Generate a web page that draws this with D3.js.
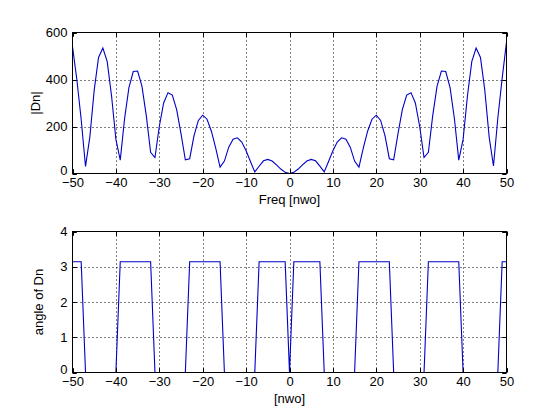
<!DOCTYPE html>
<html>
<head>
<meta charset="utf-8">
<script src="https://cdn.jsdelivr.net/npm/d3@7"></script>
<style>
  body { margin: 0; background: #fff; }
  text { font-family: "Liberation Sans", Arial, sans-serif; font-size: 13px; fill: #000; }
</style>
</head>
<body>
<div id="chart"></div>
<script>
// frequency index n = -50..50
var freq = d3.range(-50, 51);

// |Dn|, n = -50..50
var magDn = [
  540, 400, 230, 30, 156, 355, 494, 534, 476, 330,
  145, 57, 233, 365, 434, 436, 372, 246, 90, 68,
  200, 300, 344, 334, 272, 170, 58, 63, 161, 226,
  248, 231, 180, 108, 27, 53, 112, 146, 152, 134,
  97, 51, 7, 31, 54, 60, 53, 37, 19, 5,
  0,
  5, 19, 37, 53, 60, 54, 31, 7, 51, 97,
  134, 152, 146, 112, 53, 27, 108, 180, 231, 248,
  226, 161, 63, 58, 170, 272, 334, 344, 300, 200,
  68, 90, 246, 372, 436, 434, 365, 233, 57, 145,
  330, 476, 534, 494, 355, 156, 32, 235, 405, 559
];

// angle of Dn, 0 or pi, n = -50..50
var P = Math.PI;
var angDn = [
  P, P, P, 0, 0, 0, 0, 0, 0, 0,
  0, P, P, P, P, P, P, P, P, 0,
  0, 0, 0, 0, 0, 0, 0, P, P, P,
  P, P, P, P, P, 0, 0, 0, 0, 0,
  0, 0, 0, P, P, P, P, P, P, P,
  0,
  P, P, P, P, P, P, P, 0, 0, 0,
  0, 0, 0, 0, 0, P, P, P, P, P,
  P, P, P, 0, 0, 0, 0, 0, 0, 0,
  0, P, P, P, P, P, P, P, P, 0,
  0, 0, 0, 0, 0, 0, 0, 0, P, P
];

var xTicks = d3.range(-50, 51, 10);
var magTicks = [0, 200, 400, 600];
var angTicks = [0, 1, 2, 3, 4];

var width = 560, height = 420;
var left = 72.5, right = 506.5;
var tickLen = 4.3;

var svg = d3.select("#chart").append("svg")
  .attr("width", width)
  .attr("height", height);

svg.append("rect").attr("width", width).attr("height", height).attr("fill", "#fff");

function drawPanel(cfg) {
  var x = d3.scaleLinear().domain([-50, 50]).range([left, right]);
  var y = d3.scaleLinear().domain(cfg.yDomain).range([cfg.bottom, cfg.top]);
  var g = svg.append("g");

  // dotted grid
  g.selectAll(".gx").data(xTicks.slice(1, -1)).enter().append("line")
    .attr("x1", function(d) { return Math.round(x(d)) + 0.5; })
    .attr("x2", function(d) { return Math.round(x(d)) + 0.5; })
    .attr("y1", cfg.top).attr("y2", cfg.bottom)
    .attr("stroke", "#000").attr("stroke-dasharray", "1,3");
  g.selectAll(".gy").data(cfg.yTicks.slice(1, -1)).enter().append("line")
    .attr("y1", function(d) { return Math.round(y(d)) + 0.5; })
    .attr("y2", function(d) { return Math.round(y(d)) + 0.5; })
    .attr("x1", left).attr("x2", right)
    .attr("stroke", "#000").attr("stroke-dasharray", "1,3");

  // data line
  var line = d3.line()
    .x(function(d, i) { return x(freq[i]); })
    .y(function(d) { return y(d); });
  g.append("path")
    .datum(cfg.values)
    .attr("d", line)
    .attr("fill", "none")
    .attr("stroke", "#0000c8")
    .attr("stroke-width", 1.1);

  // box
  g.append("rect")
    .attr("x", left).attr("y", cfg.top)
    .attr("width", right - left).attr("height", cfg.bottom - cfg.top)
    .attr("fill", "none").attr("stroke", "#000");

  // inward ticks on all four sides
  xTicks.forEach(function(t) {
    var px = Math.round(x(t)) + 0.5;
    g.append("line").attr("x1", px).attr("x2", px)
      .attr("y1", cfg.bottom).attr("y2", cfg.bottom - tickLen).attr("stroke", "#000");
    g.append("line").attr("x1", px).attr("x2", px)
      .attr("y1", cfg.top).attr("y2", cfg.top + tickLen).attr("stroke", "#000");
  });
  cfg.yTicks.forEach(function(t) {
    var py = Math.round(y(t)) + 0.5;
    g.append("line").attr("y1", py).attr("y2", py)
      .attr("x1", left).attr("x2", left + tickLen).attr("stroke", "#000");
    g.append("line").attr("y1", py).attr("y2", py)
      .attr("x1", right).attr("x2", right - tickLen).attr("stroke", "#000");
  });

  // tick labels via d3 axes
  var xAxis = d3.axisBottom(x).tickValues(xTicks).tickSize(0).tickPadding(4)
    .tickFormat(d3.format("d"));
  g.append("g")
    .attr("transform", "translate(0," + cfg.bottom + ")")
    .call(xAxis)
    .call(function(a) { a.select(".domain").remove(); })
    .selectAll("text").style("font-size", "13px").attr("fill", "#000");

  var yAxis = d3.axisLeft(y).tickValues(cfg.yTicks).tickSize(0).tickPadding(5)
    .tickFormat(d3.format("d"));
  g.append("g")
    .attr("transform", "translate(" + left + ",0)")
    .call(yAxis)
    .call(function(a) { a.select(".domain").remove(); })
    .selectAll("text").style("font-size", "13px").attr("fill", "#000")
    .attr("dy", function(d) { return d === 0 ? "0.1em" : "0.32em"; });

  // axis labels
  g.append("text")
    .attr("x", (left + right) / 2)
    .attr("y", cfg.bottom + 30)
    .attr("text-anchor", "middle")
    .text(cfg.xLabel);
  g.append("text")
    .attr("transform", "translate(" + cfg.yLabelX + "," + ((cfg.top + cfg.bottom) / 2) + ") rotate(-90)")
    .attr("text-anchor", "middle")
    .text(cfg.yLabel);
}

drawPanel({
  top: 32.5, bottom: 173.5,
  yDomain: [0, 600], yTicks: magTicks,
  values: magDn,
  xLabel: "Freq [nwo]", yLabel: "|Dn|", yLabelX: 40
});

drawPanel({
  top: 231.5, bottom: 372.5,
  yDomain: [0, 4], yTicks: angTicks,
  values: angDn,
  xLabel: "[nwo]", yLabel: "angle of Dn", yLabelX: 43
});
</script>
</body>
</html>
